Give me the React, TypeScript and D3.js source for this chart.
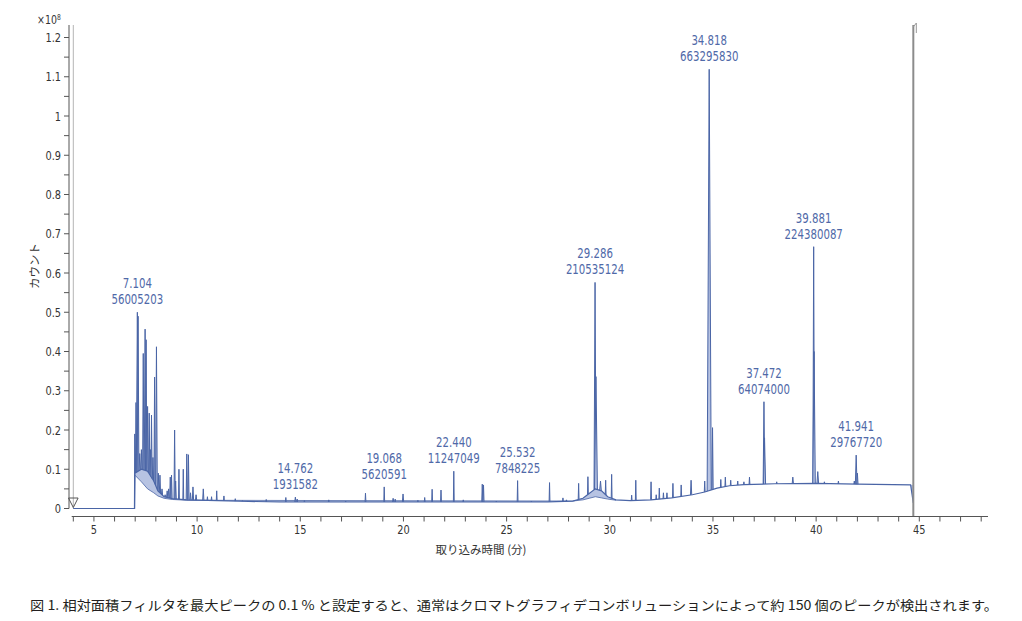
import React from "react";
import * as d3 from "d3";

// background of the trace (x 1e8 counts) and the integration floor under it
const baseT = [4, 6.97, 6.985, 7.3, 7.6, 7.9, 8.1, 8.4, 8.8, 9.5, 11, 12.5, 14, 27, 28.2, 28.7, 29.0, 29.3, 29.6, 29.9, 30.3, 31, 32, 33, 34, 34.6, 35.2, 35.8, 36.5, 38, 40, 42, 44.58, 44.71];
const baseV = [0, 0, 0.09, 0.1, 0.095, 0.07, 0.045, 0.03, 0.025, 0.022, 0.02, 0.018, 0.017, 0.017, 0.019, 0.026, 0.038, 0.05, 0.045, 0.03, 0.022, 0.02, 0.022, 0.027, 0.035, 0.042, 0.052, 0.058, 0.061, 0.063, 0.064, 0.062, 0.06, 0.014];
const floorV = [0, 0, 0.085, 0.068, 0.05, 0.04, 0.032, 0.026, 0.023, 0.021, 0.02, 0.018, 0.017, 0.017, 0.019, 0.022, 0.026, 0.03, 0.027, 0.024, 0.021, 0.02, 0.022, 0.027, 0.035, 0.042, 0.052, 0.058, 0.061, 0.063, 0.064, 0.062, 0.06, 0.06];

// peaks: retention time, apex, half width (min)
const peakRT = [6.98, 7.04, 7.104, 7.14, 7.22, 7.3, 7.39, 7.48, 7.53, 7.6, 7.68, 7.74, 7.79, 7.86, 7.94, 8.03, 8.12, 8.2, 8.3, 8.45, 8.55, 8.62, 8.7, 8.76, 8.91, 8.96, 9.12, 9.33, 9.5, 9.58, 9.68, 9.8, 9.95, 10.3, 10.5, 10.7, 10.95, 11.3, 11.85, 12.2,
  13.35, 14.3, 14.762, 14.85, 15.2, 16.38, 17.2, 18.16, 19.068, 19.5, 19.6, 19.98, 20.7, 21.03, 21.39, 21.82, 22.44, 22.9, 23.82, 23.88, 24.5, 25.532, 26.2, 27.08, 27.73, 27.9, 28.49, 28.94,
  29.286, 29.33, 29.55, 29.8, 30.09, 31.06, 31.26, 32.0, 32.25, 32.4, 32.6, 32.77, 33.06, 33.46, 33.94, 34.6, 34.818, 34.98, 35.38, 35.6, 35.86, 36.2, 36.5, 36.77,
  37.472, 37.5, 38.09, 38.87, 39.881, 39.9, 40.08, 40.4, 41.08, 41.85, 41.941, 42.0];
const peakH = [0.19, 0.27, 0.5, 0.49, 0.14, 0.15, 0.395, 0.457, 0.43, 0.26, 0.243, 0.15, 0.238, 0.13, 0.335, 0.412, 0.09, 0.085, 0.05, 0.035, 0.045, 0.05, 0.08, 0.085, 0.2, 0.07, 0.1, 0.1, 0.139, 0.137, 0.04, 0.055, 0.035, 0.05, 0.03, 0.03, 0.045, 0.032, 0.025, 0.02,
  0.023, 0.028, 0.029, 0.024, 0.02, 0.022, 0.019, 0.039, 0.055, 0.026, 0.024, 0.037, 0.021, 0.028, 0.049, 0.047, 0.095, 0.022, 0.062, 0.06, 0.019, 0.071, 0.019, 0.066, 0.027, 0.022, 0.064, 0.081,
  0.576, 0.336, 0.07, 0.072, 0.087, 0.034, 0.072, 0.068, 0.035, 0.052, 0.04, 0.04, 0.064, 0.06, 0.072, 0.07, 1.119, 0.206, 0.074, 0.08, 0.072, 0.07, 0.068, 0.08,
  0.272, 0.18, 0.068, 0.08, 0.667, 0.4, 0.094, 0.068, 0.07, 0.07, 0.136, 0.09];
const peakW = [0.02, 0.03, 0.05, 0.04, 0.03, 0.03, 0.03, 0.04, 0.03, 0.03, 0.03, 0.03, 0.03, 0.03, 0.03, 0.04, 0.03, 0.03, 0.03, 0.03, 0.03, 0.03, 0.03, 0.03, 0.03, 0.03, 0.02, 0.02, 0.03, 0.03, 0.03, 0.03, 0.03, 0.03, 0.02, 0.02, 0.02, 0.02, 0.02, 0.02,
  0.02, 0.02, 0.03, 0.02, 0.02, 0.02, 0.02, 0.02, 0.02, 0.03, 0.02, 0.03, 0.02, 0.02, 0.02, 0.02, 0.02, 0.02, 0.025, 0.025, 0.02, 0.02, 0.02, 0.02, 0.02, 0.02, 0.02, 0.02,
  0.05, 0.07, 0.04, 0.02, 0.02, 0.02, 0.02, 0.02, 0.02, 0.02, 0.02, 0.02, 0.02, 0.02, 0.03, 0.02, 0.1, 0.03, 0.02, 0.02, 0.02, 0.02, 0.02, 0.02,
  0.04, 0.05, 0.02, 0.03, 0.04, 0.06, 0.04, 0.02, 0.02, 0.02, 0.04, 0.03];

// annotated peaks
const labelRT = ["7.104", "14.762", "19.068", "22.440", "25.532", "29.286", "34.818", "37.472", "39.881", "41.941"];
const labelArea = ["56005203", "1931582", "5620591", "11247049", "7848225", "210535124", "663295830", "64074000", "224380087", "29767720"];
const labelApex = [0.5, 0.029, 0.055, 0.095, 0.071, 0.576, 1.119, 0.272, 0.667, 0.136];

const yTicks = [0, 0.1, 0.2, 0.3, 0.4, 0.5, 0.6, 0.7, 0.8, 0.9, 1, 1.1, 1.2];
const xTickLabels = [5, 10, 15, 20, 25, 30, 35, 40, 45];
const runEnd = 44.71;

const caption = "図 1. 相対面積フィルタを最大ピークの 0.1 % と設定すると、通常はクロマトグラフィデコンボリューションによって約 150 個のピークが検出されます。";

const numFont = "'DejaVu Sans Condensed', 'Liberation Sans Narrow', sans-serif";
const jpFont = "'Noto Sans CJK JP', 'Noto Sans', sans-serif";
const blue = "#4a65a6";
const lightBlue = "#b7c3e2";

// condensed-looking number text
const NText = ({ x, y, anchor = "middle", fill = "#333", size = 13, children }: any) => (
  <text
    transform={`translate(${x},${y}) scale(0.84,1)`}
    textAnchor={anchor}
    fontFamily={numFont}
    fontSize={size}
    fill={fill}
  >
    {children}
  </text>
);

const App = () => {
  const x = d3.scaleLinear().domain([4, 45]).range([73.3, 919.3]);
  const y = d3.scaleLinear().domain([0, 1.2]).range([508.5, 37.5]);
  const baseAt = d3.scaleLinear().domain(baseT).range(baseV);

  const idx = d3.range(baseT.length);
  const fillArea = d3
    .area<number>()
    .x((i) => x(baseT[i]))
    .y0((i) => y(floorV[i]))
    .y1((i) => y(baseV[i]))(idx);
  const baseLine = d3
    .line<number>()
    .x((i) => x(baseT[i]))
    .y((i) => y(baseV[i]))(idx);
  const floorLine = d3
    .line<number>()
    .x((i) => x(baseT[i]))
    .y((i) => y(floorV[i]))(idx.filter((i) => baseT[i] < 10 || (baseT[i] > 28 && baseT[i] < 30.5)));

  const peakPath = d3
    .line<[number, number]>()
    .x((d) => x(d[0]))
    .y((d) => y(d[1]));

  const xMinor = d3.range(4, 49, 1);
  const yMinor = d3.range(0.05, 1.2, 0.1);

  return (
    <svg width={1022} height={621} style={{ position: "absolute", left: 0, top: 0, background: "#fff" }}>
      {/* frame line */}
      <line x1={x(4)} x2={x(4)} y1={25} y2={508} stroke="#b5b5b5" strokeWidth={1} />

      {/* y axis */}
      <line x1={69} x2={69} y1={25} y2={508.5} stroke="#555" strokeWidth={1} />
      {yTicks.map((t) => (
        <g key={"y" + t}>
          <line x1={64} x2={69} y1={y(t)} y2={y(t)} stroke="#555" />
          <NText x={61} y={y(t) + 4.7} anchor="end">
            {String(+t.toFixed(1))}
          </NText>
        </g>
      ))}
      {yMinor.map((t) => (
        <line key={"ym" + t} x1={64} x2={69} y1={y(t)} y2={y(t)} stroke="#555" />
      ))}
      <NText x={37} y={24} anchor="start" size={12.5}>
        ×10<tspan fontSize={8} dy={-4}>8</tspan>
      </NText>
      <text transform="translate(39,266) rotate(-90)" textAnchor="middle" fontFamily={jpFont} fontSize={11.5} fill="#333">
        カウント
      </text>

      {/* x axis */}
      <line x1={71.7} x2={988} y1={516.5} y2={516.5} stroke="#555" />
      {xMinor.map((t) => (
        <line key={"x" + t} x1={x(t)} x2={x(t)} y1={516.5} y2={521.5} stroke="#555" />
      ))}
      {xTickLabels.map((t) => (
        <NText key={"xl" + t} x={x(t)} y={534}>
          {t}
        </NText>
      ))}
      <text x={481} y={554} textAnchor="middle" fontFamily={jpFont} fontSize={11.5} fill="#333">
        取り込み時間 (分)
      </text>

      {/* trace */}
      <path d={fillArea ?? ""} fill={lightBlue} />
      <path d={floorLine ?? ""} fill="none" stroke={blue} strokeWidth={0.8} />
      {peakRT.map((rt, i) => {
        const w = peakW[i];
        const pts: [number, number][] = [
          [rt - w, baseAt(rt - w)],
          [rt, peakH[i]],
          [rt + w, baseAt(rt + w)],
        ];
        return (
          <path
            key={"p" + i}
            d={peakPath(pts) ?? ""}
            fill={lightBlue}
            stroke={blue}
            strokeWidth={1}
          />
        );
      })}
      <path d={baseLine ?? ""} fill="none" stroke={blue} strokeWidth={1.2} />

      {/* run end marker */}
      <line x1={x(runEnd)} x2={x(runEnd)} y1={25} y2={516} stroke="#8c8c8c" strokeWidth={2} />
      <path d={`M${x(runEnd)},27 L${x(runEnd) + 3},23 L${x(runEnd) + 3},33`} fill="none" stroke="#999" strokeWidth={1} />

      {/* start triangle */}
      <path d={`M${x(4) - 4.8},498 L${x(4) + 4.8},498 L${x(4)},507.5 Z`} fill="none" stroke="#555" strokeWidth={1} />

      {/* peak labels */}
      {labelRT.map((rt, i) => (
        <g key={"l" + rt}>
          <NText x={x(+rt)} y={y(labelApex[i]) - 24} fill="#4f69a8" size={13.5}>
            {rt}
          </NText>
          <NText x={x(+rt)} y={y(labelApex[i]) - 8} fill="#4f69a8" size={13.5}>
            {labelArea[i]}
          </NText>
        </g>
      ))}

      {/* caption */}
      <text x={30} y={610} fontFamily={jpFont} fontSize={13} fill="#231f20" textLength={968} lengthAdjust="spacingAndGlyphs">
        {caption}
      </text>
    </svg>
  );
};

export default App;
